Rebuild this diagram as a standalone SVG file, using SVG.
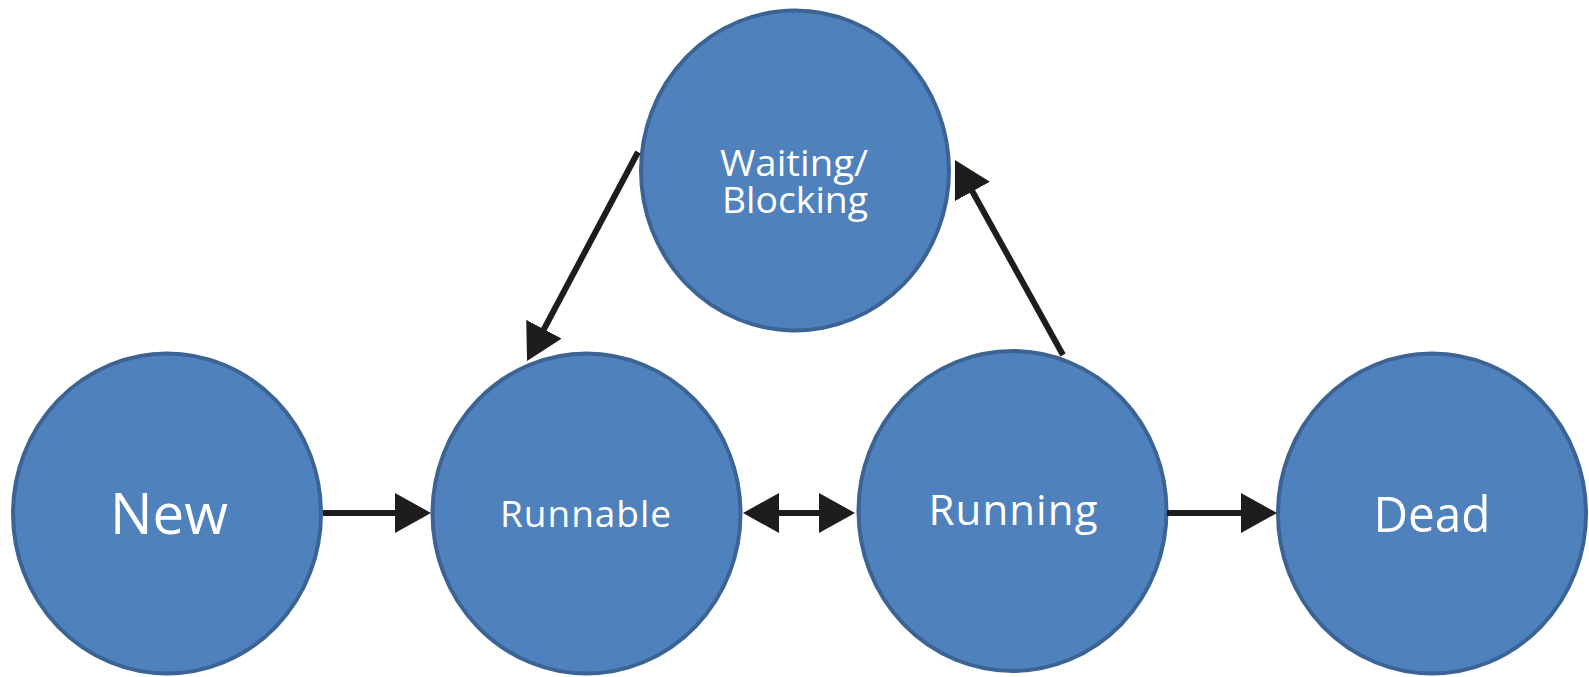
<svg xmlns="http://www.w3.org/2000/svg" width="1589" height="677" viewBox="0 0 1589 677">
  <style>
    .state { fill: #4F81BD; stroke: #3B6494; stroke-width: 4; }
    .label { fill: #FFFFFF; font-family: "Open Sans", "Liberation Sans", sans-serif; text-anchor: middle; }
    .edge { stroke: #1E1C1C; stroke-width: 6; fill: none; }
  </style>
  <defs>
    <marker id="head" viewBox="0 0 36 40" refX="6" refY="20" markerWidth="36" markerHeight="40" markerUnits="userSpaceOnUse" orient="auto-start-reverse">
      <path d="M0,0 L36,20 L0,40 Z" fill="#1E1C1C"/>
    </marker>
  </defs>
  <rect width="1589" height="677" fill="#FFFFFF"/>

  <g id="node-new">
    <ellipse class="state" cx="167" cy="513.5" rx="154" ry="160"/>
    <text class="label" x="169" y="534" font-size="56" textLength="118" lengthAdjust="spacingAndGlyphs">New</text>
  </g>
  <g id="node-runnable">
    <ellipse class="state" cx="586.5" cy="513.5" rx="154" ry="160"/>
    <text class="label" x="585.5" y="527" font-size="37" textLength="171" lengthAdjust="spacing">Runnable</text>
  </g>
  <g id="node-running">
    <ellipse class="state" cx="1012.5" cy="511" rx="154" ry="160"/>
    <text class="label" x="1013" y="524.5" font-size="42" textLength="169" lengthAdjust="spacing">Running</text>
  </g>
  <g id="node-dead">
    <ellipse class="state" cx="1432" cy="513.5" rx="154" ry="160"/>
    <text class="label" x="1432" y="532" font-size="50" textLength="117" lengthAdjust="spacingAndGlyphs">Dead</text>
  </g>
  <g id="node-waiting">
    <ellipse class="state" cx="795" cy="170.5" rx="154" ry="160"/>
    <text class="label" x="794" y="176" font-size="37" textLength="148" lengthAdjust="spacingAndGlyphs">Waiting/</text>
    <text class="label" x="795" y="213" font-size="37" textLength="146" lengthAdjust="spacingAndGlyphs">Blocking</text>
  </g>

  <g id="connectors">
    <line class="edge" x1="323" y1="513" x2="401" y2="513" marker-end="url(#head)"/>
    <line class="edge" x1="773" y1="513" x2="825" y2="513" marker-start="url(#head)" marker-end="url(#head)"/>
    <line class="edge" x1="1167" y1="513" x2="1247" y2="513" marker-end="url(#head)"/>
    <line class="edge" x1="638" y1="152" x2="541.1" y2="334.5" marker-end="url(#head)"/>
    <line class="edge" x1="1063" y1="355" x2="969.5" y2="186.2" marker-end="url(#head)"/>
  </g>
</svg>
